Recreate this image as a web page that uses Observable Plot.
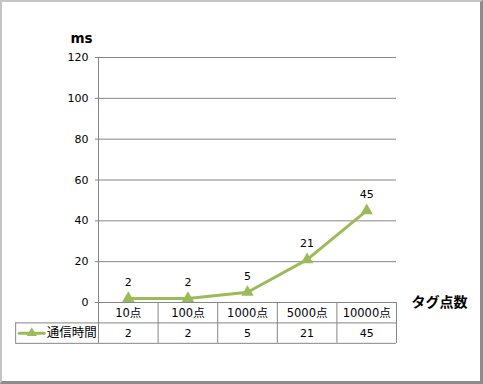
<!DOCTYPE html>
<html>
<head>
<meta charset="utf-8">
<script src="https://cdn.jsdelivr.net/npm/d3@7"></script>
<script src="https://cdn.jsdelivr.net/npm/@observablehq/plot@0.6"></script>
<style>
  html, body { margin: 0; padding: 0; background: #fff; }
  #wrap { position: relative; width: 483px; height: 384px; overflow: hidden; }
  #frame { position: absolute; left: 0; top: 0; width: 483px; height: 384px; box-sizing: border-box;
    border-left: 2px solid #c4c4c4; border-top: 2px solid #c4c4c4;
    border-right: 3px solid #8c8c8c; border-bottom: 3px solid #8c8c8c; pointer-events: none; }
  svg { display: block; font-family: Tahoma, "DejaVu Sans", "Noto Sans CJK JP", sans-serif; }
</style>
</head>
<body>
<div id="wrap"><div id="frame"></div></div>
<script>
const categories = ["10点", "100点", "1000点", "5000点", "10000点"];
const values = [2, 2, 5, 21, 45];
const seriesName = "通信時間";
const yTicks = [0, 20, 40, 60, 80, 100, 120];
const yUnit = "ms";
const xTitle = "タグ点数";

const data = categories.map((c, i) => ({i, c, v: values[i]}));
const gray = "#868686";
const green = "#9bbb59";
const legendLeft = -1.89;     // left edge of legend column (in band units)
const rowMid = -10, rowBottom = -20; // table rows below the axis (in value units)
const bounds = d3.range(categories.length + 1).map(k => k - 0.5);

const chart = Plot.plot({
  width: 483,
  height: 384,
  marginLeft: 98,
  marginRight: 87,
  marginTop: 57,
  marginBottom: 82,
  style: {fontSize: "11px", color: "black", background: "transparent"},
  x: {type: "linear", domain: [-0.5, categories.length - 0.5], axis: null},
  y: {domain: [0, 120], axis: null},
  marks: [
    // grid lines
    Plot.ruleY(yTicks, {x1: -0.5, x2: categories.length - 0.5, stroke: gray, strokeWidth: 1}),
    Plot.axisY({ticks: yTicks, tickSize: 3, tickPadding: 7, stroke: gray, fill: "black", label: null, fontSize: 11}),
    // y axis line
    Plot.ruleX([-0.5], {y1: 0, y2: 120, stroke: gray}),
    // table vertical lines
    Plot.ruleX(bounds, {y1: 0, y2: rowBottom, stroke: gray}),
    Plot.ruleX([legendLeft], {y1: rowMid, y2: rowBottom, stroke: gray}),
    // table horizontal lines
    Plot.ruleY([rowMid, rowBottom], {x1: legendLeft, x2: categories.length - 0.5, stroke: gray}),
    // category labels
    Plot.text(data, {x: "i", y: 0, text: "c", dy: 11, fill: "black", fontSize: 11.5,
      fontFamily: "Tahoma, 'DejaVu Sans', 'Noto Sans CJK JP', sans-serif"}),
    // value row
    Plot.text(data, {x: "i", y: rowMid, text: d => String(d.v), dy: 11, fill: "black", fontSize: 11}),
    // legend
    Plot.line([legendLeft + 0.06, legendLeft + 0.48].map(x => ({x})), {x: "x", y: -15, stroke: green, strokeWidth: 3}),
    Plot.dot([{x: legendLeft + 0.27}], {x: "x", y: -15, symbol: "triangle", r: 3.8, fill: green, stroke: "none"}),
    Plot.text([seriesName], {x: legendLeft + 0.52, y: -15, text: d => d, textAnchor: "start", fill: "black", fontSize: 12.5,
      fontFamily: "'Noto Sans CJK JP', sans-serif"}),
    // series line
    Plot.line(data, {x: "i", y: "v", stroke: green, strokeWidth: 3, strokeLinejoin: "round"}),
    Plot.dot(data, {x: "i", y: "v", symbol: "triangle", r: 4.6, fill: green, stroke: "none"}),
    // data labels
    Plot.text(data, {x: "i", y: "v", text: d => String(d.v), dy: -16, fill: "black", fontSize: 11}),
    // axis titles
    Plot.text([yUnit], {frameAnchor: "top-left", textAnchor: "middle", lineAnchor: "middle", dx: -17, dy: -19,
      fill: "black", fontWeight: "bold", fontSize: 13.5, fontFamily: "Tahoma, 'DejaVu Sans', sans-serif"}),
    Plot.text([xTitle], {frameAnchor: "bottom-right", textAnchor: "middle", lineAnchor: "middle", dx: 43, dy: 0,
      fill: "black", fontWeight: "bold", fontSize: 14, fontFamily: "'Noto Sans CJK JP', sans-serif"})
  ]
});
document.getElementById("wrap").prepend(chart);
</script>
</body>
</html>
